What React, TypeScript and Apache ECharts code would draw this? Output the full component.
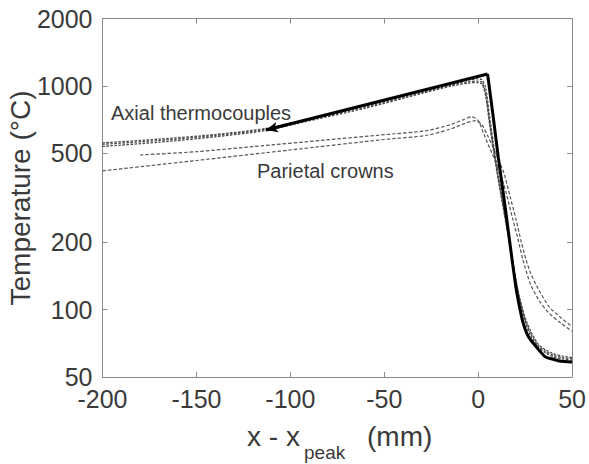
import React, { useEffect, useRef } from "react";
import * as echarts from "echarts";

// ---- data (x in mm, temperature in °C) ----
const X_TICK_MIN = -200;
const X_TICK_MAX = 50;
const X_INTERVAL = 50;
const Y_TICKS = [50, 100, 200, 500, 1000, 2000];

// Model (thick solid line): straight rise up to the peak, then the fall
const solidX = [-113, 5, 8, 10.7, 13.4, 15, 17, 20.2, 22, 23.8, 26, 28, 30.1, 33, 35.9, 40, 43.2, 46, 50];
const solidY = [635, 1130, 728, 480, 330, 262, 195, 124, 103, 88, 78, 73, 69.5, 65, 61.4, 60, 59, 58.6, 58.3];
const PEAK_INDEX = 1;

// Axial thermocouples (dashed)
const axX = [-200, -170, -140, -113, -90, -60, -30, -15, -5, 0, 2, 4, 6, 8, 10, 12, 14, 16, 18, 20, 22, 25, 28, 32, 36, 40, 45, 50];
const ax1 = [548, 570, 600, 640, 705, 805, 935, 1005, 1045, 1050, 1040, 930, 700, 540, 420, 335, 270, 215, 170, 136, 112, 90, 78, 69, 65, 62.5, 61, 60.5];
const ax2 = [536, 560, 592, 632, 698, 795, 925, 995, 1030, 1035, 1020, 900, 680, 525, 410, 328, 265, 212, 168, 137, 114, 92, 80, 70, 66, 63.5, 62, 61];
const ax3 = [556, 578, 606, 645, 712, 815, 945, 1020, 1065, 1075, 1065, 980, 740, 560, 435, 345, 275, 218, 172, 135, 110, 88, 76, 68, 64, 61.5, 60.2, 59.5];

// Parietal crowns (dashed)
const pAX = [-180, -150, -120, -81, -50, -28, -15, -8, -3.4, 0, 3, 6, 9, 12, 15, 18.5, 21, 23.8, 28, 33, 38, 44, 50];
const pAY = [491, 508, 535, 573, 605, 630, 670, 705, 728, 700, 610, 530, 465, 400, 330, 252, 210, 167, 129, 108, 96, 87, 80];
const pBX = [-200, -150, -100, -50, -28, -15, -7, -1.4, 2, 5, 8, 11, 14, 17, 20.2, 23, 25.5, 28, 31.7, 37.8, 44, 50];
const pBY = [417, 464, 517, 576, 600, 640, 680, 699, 670, 600, 530, 465, 400, 320, 252, 200, 167, 145, 125, 103, 92, 84];

const FONT = '"Liberation Sans", Arial, Helvetica, sans-serif';
const TXT = "#3a3a3a";
const AX = "#8a8a8a";

const toPts = (xs: number[], ys: number[]) => xs.map((x, i) => [x, Math.log10(ys[i])]);

export default function App() {
  const ref = useRef<HTMLDivElement>(null);
  useEffect(() => {
    if (!ref.current) return;
    const chart = echarts.init(ref.current, null, { renderer: "svg" });
    const yTickVals = Y_TICKS.map((v) => Math.log10(v));

    // arrow head at the start of the solid line
    const t = 0.1;
    const arrowFrom = [
      solidX[0] + t * (solidX[1] - solidX[0]),
      Math.log10(solidY[0]) + t * (Math.log10(solidY[1]) - Math.log10(solidY[0])),
    ];
    const arrowTo = [solidX[0], Math.log10(solidY[0])];

    const dashedAx = (name: string, ys: number[]) => ({
      name,
      type: "line",
      data: toPts(axX, ys),
      showSymbol: false,
      symbol: "none",
      smooth: 0.25,
      lineStyle: { color: "#4a4a4a", width: 1.3, type: [2.5, 1.5] },
      z: 2,
    });
    const dashedP = (name: string, xs: number[], ys: number[]) => ({
      name,
      type: "line",
      data: toPts(xs, ys),
      showSymbol: false,
      symbol: "none",
      smooth: 0.25,
      lineStyle: { color: "#555", width: 1.2, type: [3.5, 2] },
      z: 2,
    });

    const xCommon = {
      type: "value",
      min: X_TICK_MIN,
      max: X_TICK_MAX,
      interval: X_INTERVAL,
      splitLine: { show: false },
      axisLine: { show: true, onZero: false, lineStyle: { color: AX, width: 1 } },
      axisTick: { show: true, inside: true, length: 5, lineStyle: { color: AX } },
    };
    const yCommon = {
      type: "value",
      min: Math.log10(50),
      max: Math.log10(2000),
      splitLine: { show: false },
      axisLine: { show: true, onZero: false, lineStyle: { color: AX, width: 1 } },
      axisTick: { show: true, inside: true, length: 5, customValues: yTickVals, lineStyle: { color: AX } },
    };

    const solidPts = toPts(solidX, solidY);

    chart.setOption({
      animation: false,
      backgroundColor: "#fff",
      grid: { left: 102.5, right: 9.5, top: 18.5, bottom: 87, containLabel: false },
      xAxis: [
        {
          ...xCommon,
          position: "bottom",
          axisLabel: { show: true, fontSize: 25, color: TXT, fontFamily: FONT, margin: 9 },
        },
        { ...xCommon, position: "top", axisLabel: { show: false } },
      ],
      yAxis: [
        {
          ...yCommon,
          position: "left",
          axisLabel: {
            show: true,
            customValues: yTickVals,
            formatter: (v: number) => String(Math.round(Math.pow(10, v))),
            fontSize: 25,
            color: TXT,
            fontFamily: FONT,
            margin: 10,
          },
        },
        { ...yCommon, position: "right", axisLabel: { show: false } },
      ],
      series: [
        dashedP("Parietal crown A", pAX, pAY),
        dashedP("Parietal crown B", pBX, pBY),
        dashedAx("Axial 1", ax1),
        dashedAx("Axial 2", ax2),
        dashedAx("Axial 3", ax3),
        {
          name: "Model",
          type: "line",
          data: solidPts.slice(0, PEAK_INDEX + 1),
          showSymbol: false,
          symbol: "none",
          lineStyle: { color: "#000", width: 3 },
          z: 5,
          markLine: {
            silent: true,
            symbol: ["none", "arrow"],
            symbolSize: [8, 12],
            label: { show: false },
            lineStyle: { color: "#000", width: 2.5, type: "solid" },
            data: [[{ coord: arrowFrom }, { coord: arrowTo }]],
          },
        },
        {
          name: "Model fall",
          type: "line",
          data: solidPts.slice(PEAK_INDEX),
          showSymbol: false,
          symbol: "none",
          smooth: 0.3,
          lineStyle: { color: "#000", width: 3 },
          z: 5,
        },
      ],
      graphic: [
        {
          type: "text",
          x: 20,
          y: 198,
          rotation: Math.PI / 2,
          style: {
            text: "Temperature (°C)",
            fontSize: 28,
            fontFamily: FONT,
            fill: TXT,
            align: "center",
            verticalAlign: "middle",
          },
        },
        {
          type: "text",
          x: 247,
          y: 436,
          style: { text: "x - x", fontSize: 28, fontFamily: FONT, fill: TXT, align: "left", verticalAlign: "middle" },
        },
        {
          type: "text",
          x: 304,
          y: 452,
          style: { text: "peak", fontSize: 19, fontFamily: FONT, fill: TXT, align: "left", verticalAlign: "middle" },
        },
        {
          type: "text",
          x: 367,
          y: 436,
          style: { text: "(mm)", fontSize: 28, fontFamily: FONT, fill: TXT, align: "left", verticalAlign: "middle" },
        },
        {
          type: "text",
          x: 111,
          y: 113,
          style: { text: "Axial thermocouples", fontSize: 20, fontFamily: FONT, fill: TXT, align: "left", verticalAlign: "middle" },
        },
        {
          type: "text",
          x: 257,
          y: 171,
          style: { text: "Parietal crowns", fontSize: 20, fontFamily: FONT, fill: TXT, align: "left", verticalAlign: "middle" },
        },
      ],
    });
    return () => chart.dispose();
  }, []);
  return (
    <div
      ref={ref}
      style={{ position: "fixed", left: 0, top: 0, width: 589, height: 464, background: "#fff" }}
    />
  );
}
